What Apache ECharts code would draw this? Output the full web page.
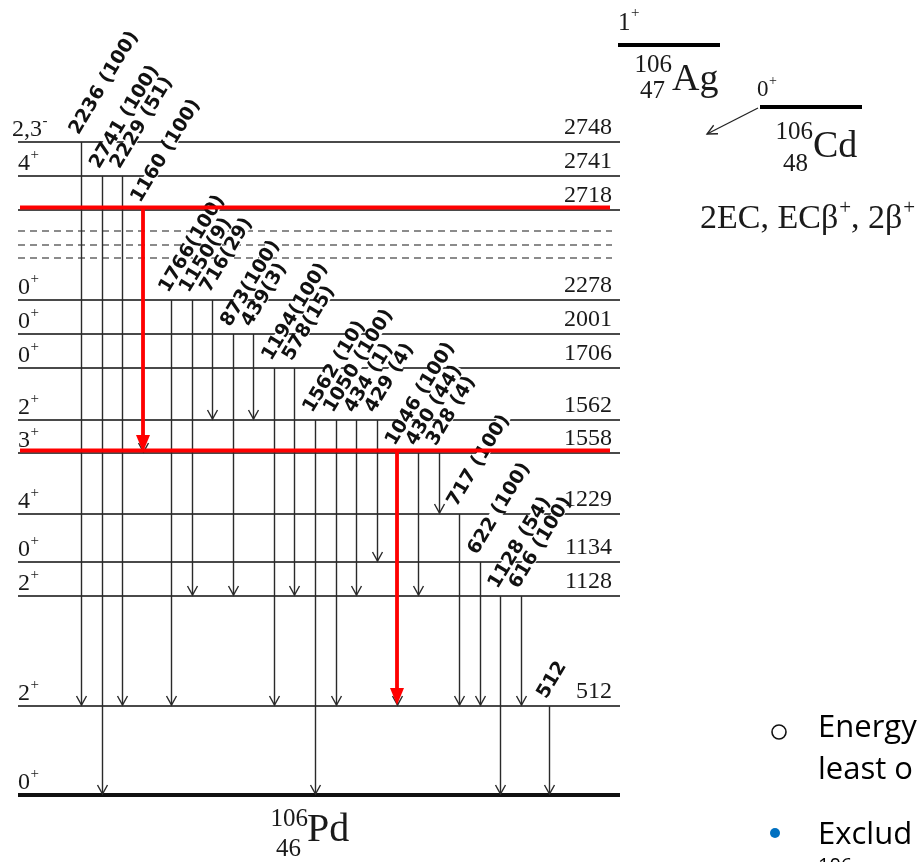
<!DOCTYPE html>
<html><head><meta charset="utf-8">
<script src="https://cdn.jsdelivr.net/npm/echarts@6/dist/echarts.min.js"></script>
<style>html,body{margin:0;padding:0;background:#fff}#c{width:922px;height:862px}</style>
</head><body><div id="c"></div>
<script>
// ---- Level scheme data (106Pd) ----
const levelEnergy = [0, 512, 1128, 1134, 1229, 1558, 1562, 1706, 2001, 2278, null, null, null, 2718, 2741, 2748];
const levelSpin   = ['0+', '2+', '2+', '0+', '4+', '3+', '2+', '0+', '0+', '0+', '', '', '', '', '4+', '2,3-'];
// schematic height of each level in the drawing (not proportional to energy)
const levelHeight = [0, 89, 199, 233, 281, 342, 375, 427, 461, 495, 537, 550, 564, 585, 619, 653];

const gammaFrom  = [2748, 2741, 2741, 2718, 2278, 2278, 2278, 2001, 2001, 1706, 1706, 1562, 1562, 1562, 1562, 1558, 1558, 1558, 1229, 1134, 1128, 1128, 512];
const gammaTo    = [512, 0, 512, 1558, 512, 1128, 1562, 1128, 1562, 512, 1128, 0, 512, 1128, 1134, 512, 1128, 1229, 512, 512, 0, 512, 0];
const gammaLabel = ['2236 (100)', '2741 (100)', '2229 (51)', '1160 (100)', '1766(100)', '1150(9)', '716(29)',
                    '873(100)', '439(3)', '1194(100)', '578(15)', '1562 (10)', '1050 (100)', '434 (1)', '429 (4)',
                    '1046 (100)', '430 (44)', '328 (4)', '717 (100)', '622 (100)', '1128 (54)', '616 (100)', '512'];
const highlightLevels = [2718, 1558];
const highlightGammas = ['1160 (100)', '1046 (100)'];

// ---- helpers ----
const SERIF = '"Liberation Serif", "Times New Roman", serif';
const LABEL = '"DejaVu Sans", Verdana, sans-serif';
const SANS = '"Open Sans", "Noto Sans", sans-serif';
const mctx = document.createElement('canvas').getContext('2d');
function tw(text, font) { mctx.font = font; return mctx.measureText(text).width; }
function posOf(E) { return levelHeight[levelEnergy.indexOf(E)]; }

const levelData = levelHeight.map((h, i) => [0, h, i]);
const gammaData = gammaLabel.map((lab, i) => {
  const slot = i + (i >= 4 ? 0.36 : 0) + (i >= 22 ? 0.36 : 0);
  return [slot, posOf(gammaFrom[i]), posOf(gammaTo[i]), i];
});
const redLevelData = highlightLevels.map(E => [0, posOf(E)]);
const redGammaData = gammaData.filter(d => highlightGammas.indexOf(gammaLabel[d[3]]) >= 0);

function supText(x, y, main, sup, fs, sfs, dy, color) {
  const f = fs + 'px ' + SERIF;
  return [
    {type: 'text', x: x, y: y, style: {text: main, font: f, fill: color || '#1a1a1a', align: 'left', verticalAlign: 'middle'}},
    {type: 'text', x: x + tw(main, f) + 0.5, y: y - dy, style: {text: sup, font: sfs + 'px ' + SERIF, fill: color || '#1a1a1a', align: 'left', verticalAlign: 'middle'}}
  ];
}

function renderLevelLine(params, api) {
  const i = api.value(2);
  const cs = params.coordSys;
  const y = api.coord([0, api.value(1)])[1];
  const E = levelEnergy[i];
  const L = cs.x, R = cs.x + cs.width;
  if (E === null) {
    return {type: 'line', shape: {x1: L, y1: y, x2: R - 8, y2: y}, style: {stroke: '#666', lineWidth: 1.6, lineDash: [7, 5]}};
  } else if (E === 0) {
    return {type: 'line', shape: {x1: L, y1: y, x2: R, y2: y}, style: {stroke: '#111', lineWidth: 4}};
  }
  return {type: 'line', shape: {x1: L, y1: y, x2: R, y2: y}, style: {stroke: '#4a4a4a', lineWidth: 1.9}};
}

function renderLevelText(params, api) {
  const i = api.value(2);
  const cs = params.coordSys;
  const y = api.coord([0, api.value(1)])[1];
  const E = levelEnergy[i];
  const L = cs.x, R = cs.x + cs.width;
  const ch = [];
  const sp = levelSpin[i];
  if (sp) {
    const main = sp.slice(0, -1), sup = sp.slice(-1) === '-' ? '-' : '+';
    const x0 = main.length > 1 ? L - 6 : L;
    supText(x0, y - 12, main, sup, 24, 15, 9).forEach(e => ch.push(e));
  }
  if (E) {
    ch.push({type: 'text', x: R - 8, y: y - 14, style: {text: String(E), font: '24px ' + SERIF, fill: '#1a1a1a', align: 'right', verticalAlign: 'middle'}});
  }
  return {type: 'group', children: ch};
}

function renderGamma(params, api) {
  const x = api.value(0);
  const p1 = api.coord([x, api.value(1)]), p2 = api.coord([x, api.value(2)]);
  const X = Math.round(p1[0]) + 0.5, yb = p2[1];
  return {type: 'group', children: [
    {type: 'line', shape: {x1: X, y1: p1[1], x2: X, y2: yb - 1}, style: {stroke: '#2a2a2a', lineWidth: 1.4}},
    {type: 'polyline', shape: {points: [[X - 5, yb - 10], [X, yb - 1], [X + 5, yb - 10]]}, style: {stroke: '#2a2a2a', lineWidth: 1.4, fill: 'none'}}
  ]};
}

function renderLabel(params, api) {
  const i = api.value(3);
  const p1 = api.coord([api.value(0), api.value(1)]);
  return {type: 'text', x: p1[0] - 7, y: p1[1] - 9, rotation: 59 * Math.PI / 180,
    style: {text: gammaLabel[i], font: 'bold 19px ' + LABEL, fill: '#111', align: 'left', verticalAlign: 'middle',
            backgroundColor: '#fff', lineHeight: 12}};
}

function renderRedLevel(params, api) {
  const cs = params.coordSys;
  const y = api.coord([0, api.value(1)])[1] - 2.5;
  return {type: 'line', shape: {x1: cs.x + 2, y1: y, x2: cs.x + cs.width - 10, y2: y}, style: {stroke: '#ff0000', lineWidth: 3.8}};
}

function renderRedGamma(params, api) {
  const x = api.value(0);
  const p1 = api.coord([x, api.value(1)]), p2 = api.coord([x, api.value(2)]);
  const X = Math.round(p1[0]), yb = p2[1] - 1;
  return {type: 'group', children: [
    {type: 'line', shape: {x1: X, y1: p1[1] - 3, x2: X, y2: yb - 14}, style: {stroke: '#ff0000', lineWidth: 3.8}},
    {type: 'polygon', shape: {points: [[X - 7, yb - 17], [X + 7, yb - 17], [X, yb]]}, style: {fill: '#ff0000'}}
  ]};
}

// decay arrow Cd -> Ag
const ax1 = 758, ay1 = 108, ax2 = 707, ay2 = 134;
const ang = Math.atan2(ay2 - ay1, ax2 - ax1);
const wing = a => [ax2 - 11 * Math.cos(ang + a), ay2 - 11 * Math.sin(ang + a)];

const graphics = [].concat(
  supText(618, 23, '1', '+', 25, 15, 10),
  [{type: 'line', shape: {x1: 618, y1: 45, x2: 720, y2: 45}, style: {stroke: '#000', lineWidth: 4}}],
  [{type: 'text', x: 672, y: 65, style: {text: '106', font: '25px ' + SERIF, fill: '#1a1a1a', align: 'right', verticalAlign: 'middle'}},
   {type: 'text', x: 665, y: 91, style: {text: '47', font: '25px ' + SERIF, fill: '#1a1a1a', align: 'right', verticalAlign: 'middle'}},
   {type: 'text', x: 672, y: 80, style: {text: 'Ag', font: '38px ' + SERIF, fill: '#1a1a1a', align: 'left', verticalAlign: 'middle'}}],
  supText(757, 90, '0', '+', 23, 14, 9),
  [{type: 'line', shape: {x1: 760, y1: 107, x2: 862, y2: 107}, style: {stroke: '#000', lineWidth: 4}},
   {type: 'line', shape: {x1: ax1, y1: ay1, x2: ax2, y2: ay2}, style: {stroke: '#222', lineWidth: 1.3}},
   {type: 'polyline', shape: {points: [wing(0.45), [ax2, ay2], wing(-0.45)]}, style: {stroke: '#222', lineWidth: 1.3, fill: 'none'}},
   {type: 'text', x: 813, y: 132, style: {text: '106', font: '25px ' + SERIF, fill: '#1a1a1a', align: 'right', verticalAlign: 'middle'}},
   {type: 'text', x: 808, y: 164, style: {text: '48', font: '25px ' + SERIF, fill: '#1a1a1a', align: 'right', verticalAlign: 'middle'}},
   {type: 'text', x: 813, y: 147, style: {text: 'Cd', font: '38px ' + SERIF, fill: '#1a1a1a', align: 'left', verticalAlign: 'middle'}}],
  (function () {
    const f = '34px ' + SERIF, sf = '21px ' + SERIF;
    let x = 700; const y = 219; const out = [];
    [['2EC, ECβ', '+'], [', 2β', '+']].forEach(pr => {
      out.push({type: 'text', x: x, y: y, style: {text: pr[0], font: f, fill: '#1a1a1a', align: 'left', verticalAlign: 'middle'}});
      x += tw(pr[0], f);
      out.push({type: 'text', x: x + 1, y: y - 11, style: {text: pr[1], font: sf, fill: '#1a1a1a', align: 'left', verticalAlign: 'middle'}});
      x += tw(pr[1], sf) + 1;
    });
    return out;
  })(),
  [{type: 'text', x: 308, y: 819, style: {text: '106', font: '25px ' + SERIF, fill: '#1a1a1a', align: 'right', verticalAlign: 'middle'}},
   {type: 'text', x: 301, y: 849, style: {text: '46', font: '25px ' + SERIF, fill: '#1a1a1a', align: 'right', verticalAlign: 'middle'}},
   {type: 'text', x: 307, y: 830, style: {text: 'Pd', font: '40px ' + SERIF, fill: '#1a1a1a', align: 'left', verticalAlign: 'middle'}}],
  // slide text (cut at right edge)
  [{type: 'circle', shape: {cx: 779, cy: 732, r: 7}, style: {stroke: '#111', lineWidth: 1.6, fill: 'none'}},
   {type: 'text', x: 818, y: 728, style: {text: 'Energy', font: '31px ' + SANS, fill: '#000', align: 'left', verticalAlign: 'middle'}},
   {type: 'text', x: 818, y: 770, style: {text: 'least o', font: '31px ' + SANS, fill: '#000', align: 'left', verticalAlign: 'middle'}},
   {type: 'circle', shape: {cx: 775, cy: 833, r: 5}, style: {fill: '#0070c0'}},
   {type: 'text', x: 818, y: 835, style: {text: 'Exclud', font: '31px ' + SANS, fill: '#000', align: 'left', verticalAlign: 'middle'}},
   {type: 'text', x: 818, y: 866, style: {text: '106', font: '20px ' + SANS, fill: '#000', align: 'left', verticalAlign: 'middle'}},
   {type: 'text', x: 852, y: 877, style: {text: 'Pd', font: '31px ' + SANS, fill: '#000', align: 'left', verticalAlign: 'middle'}}]
);

const chart = echarts.init(document.getElementById('c'), null, {renderer: 'canvas'});
const common = {type: 'custom', coordinateSystem: 'cartesian2d', silent: true, clip: false, animation: false};
chart.setOption({
  animation: false,
  backgroundColor: '#fff',
  grid: {left: 18, right: 302, top: 95, bottom: 67, show: false},
  xAxis: {type: 'value', min: -3.07, max: 26.17, show: false},
  yAxis: {type: 'value', min: 0, max: 700, show: false},
  graphic: {elements: graphics},
  series: [
    Object.assign({}, common, {name: 'levels', z: 1, data: levelData, encode: {x: 0, y: 1}, renderItem: renderLevelLine}),
    Object.assign({}, common, {name: 'gammas', z: 2, data: gammaData, encode: {x: 0, y: [1, 2]}, renderItem: renderGamma}),
    Object.assign({}, common, {name: 'labels', z: 3, data: gammaData, encode: {x: 0, y: 1}, renderItem: renderLabel}),
    Object.assign({}, common, {name: 'levelText', z: 4, data: levelData, encode: {x: 0, y: 1}, renderItem: renderLevelText}),
    Object.assign({}, common, {name: 'redLevels', z: 5, data: redLevelData, encode: {x: 0, y: 1}, renderItem: renderRedLevel}),
    Object.assign({}, common, {name: 'redGammas', z: 6, data: redGammaData, encode: {x: 0, y: [1, 2]}, renderItem: renderRedGamma})
  ]
});
</script>
</body></html>
